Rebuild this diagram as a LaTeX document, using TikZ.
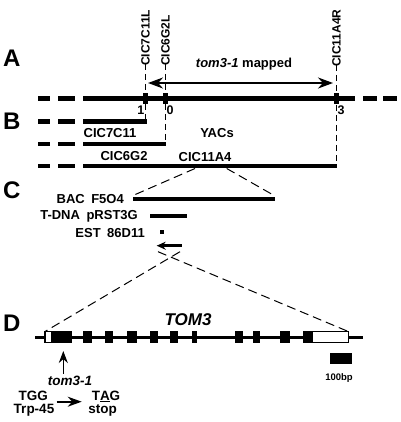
\documentclass[tikz,border=0pt]{standalone}
\usepackage{fontspec}
\setmainfont{Liberation Sans}
\usetikzlibrary{arrows.meta}
\begin{document}
\begin{tikzpicture}[x=1pt,y=-1pt,
  lbl/.style={font=\fontsize{13}{15}\selectfont\bfseries, inner sep=0pt, anchor=base},
  lble/.style={lbl, anchor=base east},
  dl/.style={lbl, font=\fontsize{13.5}{15}\selectfont\bfseries},
  num/.style={font=\fontsize{12.5}{14}\selectfont\bfseries, inner sep=0pt},
  big/.style={font=\fontsize{24}{28}\selectfont\bfseries, inner sep=0pt, anchor=base west},
  vlbl/.style={font=\fontsize{12}{14}\selectfont\bfseries, inner sep=0pt, rotate=90, anchor=west},
  chrom/.style={line width=5pt},
  yac/.style={line width=4.5pt},
  vdash/.style={line width=0.8pt, dash pattern=on 6pt off 4pt},
  zdash/.style={line width=1pt, dash pattern=on 9pt off 5pt},
  exon/.style={fill=black},
  utr/.style={draw=black, line width=1.2pt, fill=white},
]
\useasboundingbox (0,0) rectangle (400,422);

% panel letters
\node[big] (A) at (3,66.7) {A};
\node[big] (B) at (3,130) {B};
\node[big] (C) at (3,198) {C};
\node[big] (D) at (3,331.7) {D};

% ---------- A: chromosome ----------
\draw[chrom] (38,99)--(50,99) (58,99)--(75,99) (83,99)--(355,99) (363,99)--(377,99) (383,99)--(397,99);
\fill (143,93) rectangle (148,104);
\fill (163,93) rectangle (168,104);
\fill (334,93) rectangle (339,104);

\node[vlbl] (m1) at (145.5,66) {CIC7C11L};
\node[vlbl] (m2) at (165.5,66) {CIC6G2L};
\node[vlbl] (m3) at (336.5,67) {CIC11A4R};

\coordinate (e1) at (145.5,119);
\coordinate (e2) at (165.5,142);
\coordinate (e3) at (336.5,164);
\draw[vdash] ([yshift=2pt]m1.west) -- (e1);
\draw[vdash] ([yshift=2pt]m2.west) -- (e2);
\draw[vdash] ([yshift=2pt]m3.west) -- (e3);

\node[num, anchor=base east] (n1) at (144.5,115) {1};
\node[num, anchor=base west] (n0) at (166.5,115) {0};
\node[num, anchor=base west] (n3) at (337.5,115) {3};

\coordinate (arL) at (148,83);
\coordinate (arR) at (333,83);
\draw[line width=2pt, {Stealth[length=15pt,width=11pt]}-{Stealth[length=15pt,width=11pt]}] (arL) -- (arR);
\node[lbl] (map) at (244,68) {\textit{tom3-1} mapped};

% ---------- B: YACs ----------
\draw[yac] (38,121.5)--(50,121.5) (58,121.5)--(75,121.5) (83,121.5)--(147,121.5);
\draw[yac] (38,144)--(50,144) (58,144)--(75,144) (83,144)--(166,144);
\draw[yac] (38,166)--(50,166) (58,166)--(75,166) (83,166)--(337,166);
\node[lbl] (y1) at (110,138) {CIC7C11};
\node[lbl] (y2) at (124,160) {CIC6G2};
\node[lbl] (y3) at (205,161.7) {CIC11A4};
\node[lbl] (yacs) at (217,138) {YACs};

% ---------- C ----------
\coordinate (bacL) at (133,198.7);
\coordinate (bacR) at (275,198.7);
\draw[line width=4pt] (bacL) -- (bacR);
\node[lble] (bac) at (124,203) {BAC\hspace{0.5em}F5O4};
\draw[zdash] (195,168.5) -- (133,195.5);
\draw[zdash] (226.7,168.5) -- (275,196);

\draw[line width=4pt] (150,215.5) -- (187,215.5);
\node[lble] (tdna) at (138,219.5) {T-DNA\hspace{0.5em}pRST3G};

\fill (160,230) rectangle (163.5,233.5);
\node[lble] (est) at (145,237) {EST\hspace{0.5em}86D11};

\coordinate (arT) at (181.7,245.7);
\coordinate (arH) at (156.7,245.7);
\draw[line width=2.5pt, -{Stealth[length=9pt,width=8pt]}] (arT) -- (arH);

% ---------- D: gene ----------
\coordinate (gL) at (35,337);
\coordinate (gR) at (363,337);
\coordinate (b1) at (45,331.5);
\coordinate (b2) at (348.3,331.5);
\draw[zdash] (158,251.7) -- (b2);
\draw[zdash] (180,251.7) -- (b1);

\node[lbl, font=\fontsize{17}{20}\selectfont\bfseries\itshape] (tom3) at (188,325) {TOM3};
\draw[line width=3pt] (gL) -- (gR);
\draw[utr] (b1) rectangle (51.7,342.5);
\fill[exon] (51.7,331) rectangle (71.7,343);
\fill[exon] (83.3,331) rectangle (91.7,343);
\fill[exon] (105,331) rectangle (113.3,343);
\fill[exon] (126.7,331) rectangle (136.7,343);
\fill[exon] (150,331) rectangle (158.3,343);
\fill[exon] (170,331) rectangle (178.3,343);
\fill[exon] (191.7,331) rectangle (196.7,343);
\fill[exon] (235,331) rectangle (243.3,343);
\fill[exon] (253.3,331) rectangle (260,343);
\fill[exon] (280,331) rectangle (290,343);
\fill[exon] (303.3,331) rectangle (312,343);
\draw[utr] (312,331.5) rectangle (b2 |- 0,342.5);

\coordinate (mt) at (63.3,373.5);
\coordinate (mh) at (63.3,351);
\draw[line width=1.3pt, -{Stealth[length=12pt,width=9pt]}] (mt) -- (mh);
\node[dl, font=\fontsize{13.5}{15}\selectfont\bfseries\itshape] (allele) at (70,385) {tom3-1};

\node[dl] (tgg) at (33.3,400) {TGG};
\node[dl] (trp) at (34,413) {Trp-45};
\node[dl] (tag) at (106,400) {T\underline{A}G};
\node[dl] (stop) at (102.5,413) {stop};
\coordinate (cT) at (56.7,401.7);
\coordinate (cH) at (81.7,401.7);
\draw[line width=1.8pt, -{Stealth[length=14pt,width=10pt]}] (cT) -- (cH);

\fill (330,353) rectangle (352,364);
\node[lbl, font=\fontsize{9.5}{11}\selectfont\bfseries] (bar) at (339,380) {100bp};
\end{tikzpicture}
\end{document}
